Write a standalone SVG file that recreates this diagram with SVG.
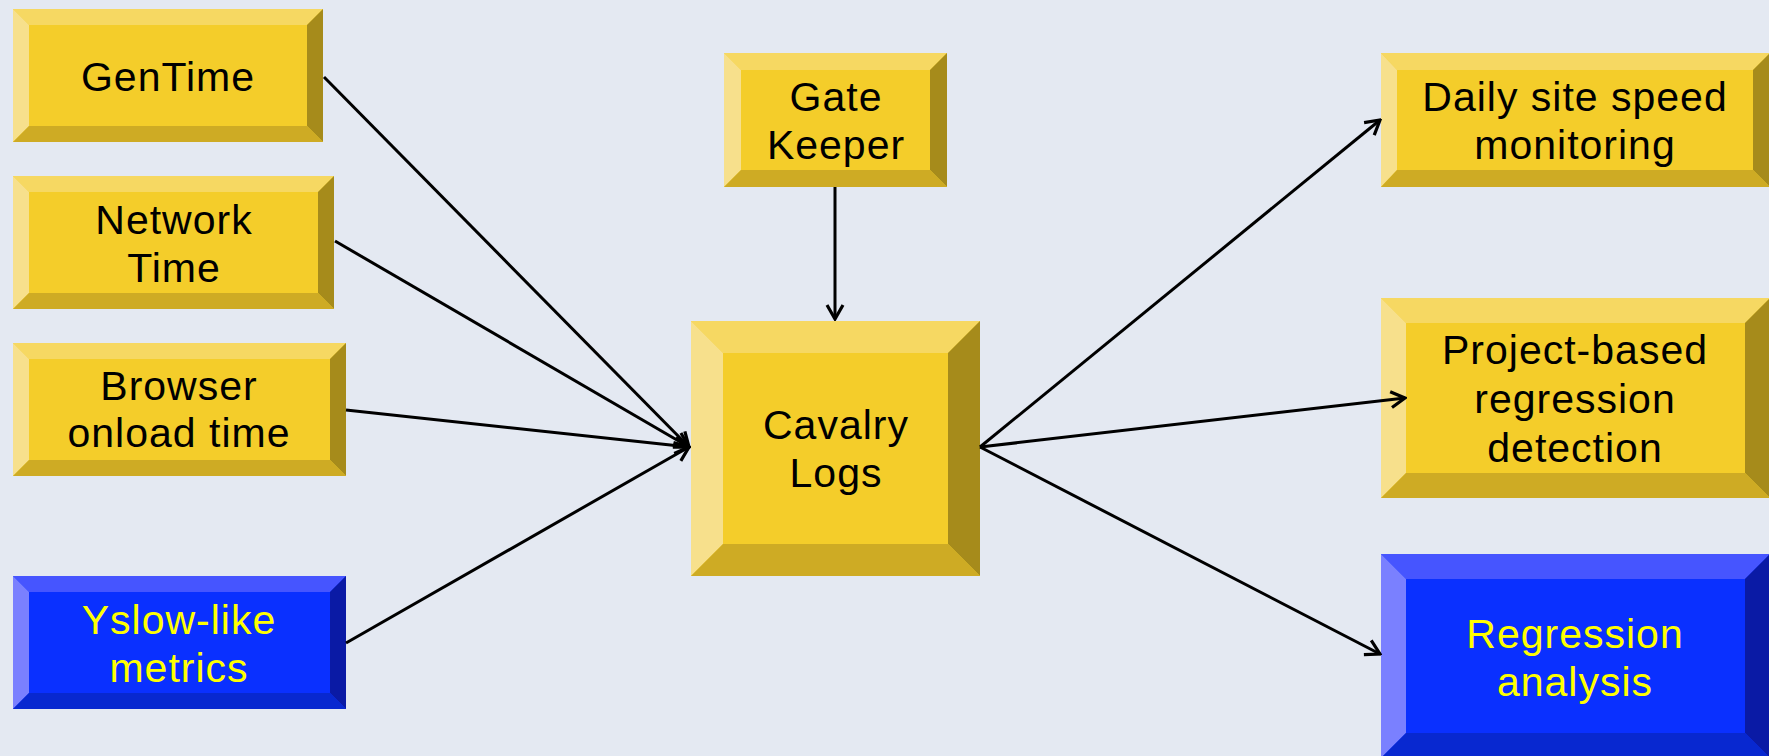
<svg xmlns="http://www.w3.org/2000/svg" width="1769" height="756" viewBox="0 0 1769 756">
<style>
.bg{fill:#E4E9F2}
.y .f{fill:#F4CD2A}.y .t{fill:#F6D862}.y .l{fill:#F7E08C}.y .r{fill:#A68B1B}.y .b{fill:#CEAB24}
.u .f{fill:#0A30FF}.u .t{fill:#4655FF}.u .l{fill:#7A80FF}.u .r{fill:#0A1AA5}.u .b{fill:#0828D0}
text{font-family:"Liberation Sans",Arial,sans-serif;font-size:41px;letter-spacing:1px;text-anchor:middle}
.y text{fill:#000}
.u text{fill:#FFFF00}
.c line{stroke:#000;stroke-width:3;fill:none}
</style>
<defs>
<marker id="arr" viewBox="-18 -11 20 22" refX="0" refY="0" markerWidth="20" markerHeight="22" markerUnits="userSpaceOnUse" orient="auto">
<path d="M-14,-8 L0,0 L-14,8" fill="none" stroke="#000" stroke-width="3.2"/>
</marker>
</defs>
<rect class="bg" x="0" y="0" width="1769" height="756"/>

<g id="gentime" class="y">
<rect class="f" x="13" y="9" width="310" height="133"/>
<polygon class="t" points="13,9 323,9 307,25 29,25"/>
<polygon class="l" points="13,9 29,25 29,126 13,142"/>
<polygon class="r" points="323,9 323,142 307,126 307,25"/>
<polygon class="b" points="13,142 29,126 307,126 323,142"/>
<text x="168" y="91">GenTime</text>
</g>

<g id="network" class="y">
<rect class="f" x="13" y="176" width="321" height="133"/>
<polygon class="t" points="13,176 334,176 318,192 29,192"/>
<polygon class="l" points="13,176 29,192 29,293 13,309"/>
<polygon class="r" points="334,176 334,309 318,293 318,192"/>
<polygon class="b" points="13,309 29,293 318,293 334,309"/>
<text x="174" y="234">Network</text>
<text x="174" y="282">Time</text>
</g>

<g id="browser" class="y">
<rect class="f" x="13" y="343" width="333" height="133"/>
<polygon class="t" points="13,343 346,343 330,359 29,359"/>
<polygon class="l" points="13,343 29,359 29,460 13,476"/>
<polygon class="r" points="346,343 346,476 330,460 330,359"/>
<polygon class="b" points="13,476 29,460 330,460 346,476"/>
<text x="179" y="400">Browser</text>
<text x="179" y="447">onload time</text>
</g>

<g id="yslow" class="u">
<rect class="f" x="13" y="576" width="333" height="133"/>
<polygon class="t" points="13,576 346,576 330,592 29,592"/>
<polygon class="l" points="13,576 29,592 29,693 13,709"/>
<polygon class="r" points="346,576 346,709 330,693 330,592"/>
<polygon class="b" points="13,709 29,693 330,693 346,709"/>
<text x="179" y="634">Yslow-like</text>
<text x="179" y="682">metrics</text>
</g>

<g id="gatekeeper" class="y">
<rect class="f" x="724" y="53" width="223" height="134"/>
<polygon class="t" points="724,53 947,53 930,70 741,70"/>
<polygon class="l" points="724,53 741,70 741,170 724,187"/>
<polygon class="r" points="947,53 947,187 930,170 930,70"/>
<polygon class="b" points="724,187 741,170 930,170 947,187"/>
<text x="836" y="111">Gate</text>
<text x="836" y="159">Keeper</text>
</g>

<g id="cavalry" class="y">
<rect class="f" x="691" y="321" width="289" height="255"/>
<polygon class="t" points="691,321 980,321 948,353 723,353"/>
<polygon class="l" points="691,321 723,353 723,544 691,576"/>
<polygon class="r" points="980,321 980,576 948,544 948,353"/>
<polygon class="b" points="691,576 723,544 948,544 980,576"/>
<text x="836" y="439">Cavalry</text>
<text x="836" y="487">Logs</text>
</g>

<g id="daily" class="y">
<rect class="f" x="1381" y="53" width="389" height="134"/>
<polygon class="t" points="1381,53 1770,53 1753,70 1397,70"/>
<polygon class="l" points="1381,53 1397,70 1397,170 1381,187"/>
<polygon class="r" points="1770,53 1770,187 1753,170 1753,70"/>
<polygon class="b" points="1381,187 1397,170 1753,170 1770,187"/>
<text x="1575" y="111">Daily site speed</text>
<text x="1575" y="159">monitoring</text>
</g>

<g id="project" class="y">
<rect class="f" x="1381" y="298" width="389" height="200"/>
<polygon class="t" points="1381,298 1770,298 1745,323 1406,323"/>
<polygon class="l" points="1381,298 1406,323 1406,473 1381,498"/>
<polygon class="r" points="1770,298 1770,498 1745,473 1745,323"/>
<polygon class="b" points="1381,498 1406,473 1745,473 1770,498"/>
<text x="1575" y="364">Project-based</text>
<text x="1575" y="413">regression</text>
<text x="1575" y="462">detection</text>
</g>

<g id="regression" class="u">
<rect class="f" x="1381" y="554" width="389" height="204"/>
<polygon class="t" points="1381,554 1770,554 1745,579 1406,579"/>
<polygon class="l" points="1381,554 1406,579 1406,733 1381,758"/>
<polygon class="r" points="1770,554 1770,758 1745,733 1745,579"/>
<polygon class="b" points="1381,758 1406,733 1745,733 1770,758"/>
<text x="1575" y="648">Regression</text>
<text x="1575" y="696">analysis</text>
</g>

<g id="connectors" class="c">
<line x1="324" y1="77" x2="689" y2="447" marker-end="url(#arr)"/>
<line x1="335" y1="241" x2="689" y2="447" marker-end="url(#arr)"/>
<line x1="346" y1="410" x2="689" y2="447" marker-end="url(#arr)"/>
<line x1="346" y1="643" x2="689" y2="447" marker-end="url(#arr)"/>
<line x1="835" y1="187" x2="835" y2="319" marker-end="url(#arr)"/>
<line x1="980" y1="447" x2="1380" y2="120" marker-end="url(#arr)"/>
<line x1="980" y1="447" x2="1405" y2="398" marker-end="url(#arr)"/>
<line x1="980" y1="447" x2="1380" y2="654" marker-end="url(#arr)"/>
</g>
</svg>
